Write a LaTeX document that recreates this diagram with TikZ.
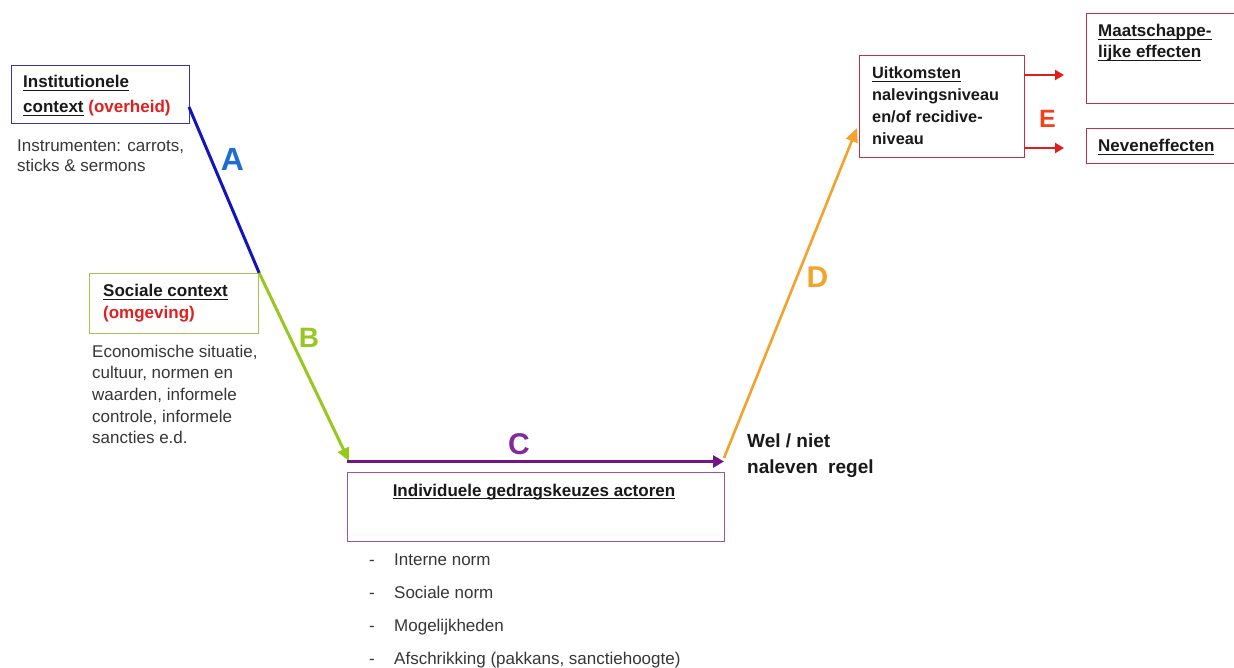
\documentclass[tikz,border=0pt]{standalone}
\usepackage{fontspec}
\setmainfont{Liberation Sans}
\usetikzlibrary{arrows.meta}
\newcommand\undl[1]{\setbox0\hbox{#1}\rlap{\rule[-3.2pt]{\wd0}{1.3pt}}\box0\relax}
\definecolor{navyb}{RGB}{55,55,150}
\definecolor{blueline}{RGB}{20,20,190}
\definecolor{blueA}{RGB}{30,110,210}
\definecolor{greenB}{RGB}{150,200,30}
\definecolor{greenbox}{RGB}{165,195,75}
\definecolor{purpleC}{RGB}{115,20,135}
\definecolor{purplelbl}{RGB}{130,40,160}
\definecolor{purplebox}{RGB}{160,80,175}
\definecolor{orangeD}{RGB}{243,162,44}
\definecolor{redarrow}{RGB}{225,30,30}
\definecolor{redE}{RGB}{242,64,26}
\definecolor{darkredbox}{RGB}{192,48,72}
\definecolor{redt}{RGB}{224,32,32}
\definecolor{bodygray}{RGB}{55,55,55}
\definecolor{headblack}{RGB}{25,25,25}
\begin{document}
\begin{tikzpicture}[x=1pt,y=-1pt]
\tikzset{
 lbl/.style={font=\fontsize{17}{20}\selectfont, inner sep=0, anchor=base west},
 hd/.style={lbl, font=\fontsize{17}{20}\selectfont\bfseries, text=headblack},
 hdsm/.style={lbl, font=\fontsize{16.3}{20}\selectfont\bfseries, text=headblack},
 body/.style={lbl, text=bodygray},
 big/.style={font=\fontsize{30}{30}\selectfont\bfseries, inner sep=0},
 box/.style={draw, line width=1.2pt, inner sep=0, anchor=north west, fill=white},
 conn/.style={line width=3pt},
}
\useasboundingbox (0,0) rectangle (1234,668);
\fill[white] (0,0) rectangle (1234,668);

% ---- Institutionele context
\node[box, draw=navyb, minimum width=178, minimum height=58] (inst) at (11,65) {};
\node[hd] (inst1) at (23,88) {\undl{Institutionele}};
\node[hd] (inst2) at (23,113) {\undl{context} \textcolor{redt}{(overheid)}};
\node[body] (instr1) at (17,152) {Instrumenten: carrots,};
\node[body] (instr2) at (17,172) {sticks \& sermons};

% ---- Sociale context
\node[box, draw=greenbox, minimum width=169, minimum height=60] (soc) at (89,273) {};
\node[hd] (soc1) at (103,297) {\undl{Sociale context}};
\node[hd, text=redt] (soc2) at (103,319) {(omgeving)};
\node[body] (ec1) at (92,357) {Economische situatie,};
\node[body] (ec2) at (92,378.5) {cultuur, normen en};
\node[body] (ec3) at (92,400) {waarden, informele};
\node[body] (ec4) at (92,422) {controle, informele};
\node[body] (ec5) at (92,443.5) {sancties e.d.};

% ---- Individuele gedragskeuzes
\node[box, draw=purplebox, minimum width=377, minimum height=69] (ind) at (347,472) {};
\node[hd, anchor=base] (ind1) at (534,496) {\undl{Individuele gedragskeuzes actoren}};
\node[body, anchor=base] (d1) at (372,565) {-};
\node[body] (l1) at (394,565) {Interne norm};
\node[body, anchor=base] (d2) at (372,598) {-};
\node[body] (l2) at (394,598) {Sociale norm};
\node[body, anchor=base] (d3) at (372,631) {-};
\node[body] (l3) at (394,631) {Mogelijkheden};
\node[body, anchor=base] (d4) at (372,664) {-};
\node[body] (l4) at (394,664) {Afschrikking (pakkans, sanctiehoogte)};

% ---- Wel / niet
\node[lbl, font=\fontsize{19}{22}\selectfont\bfseries, text=headblack] (wel1) at (747,447) {Wel / niet};
\node[lbl, font=\fontsize{19}{22}\selectfont\bfseries, text=headblack] (wel2) at (747,473) {naleven\hspace{5pt} regel};

% ---- Uitkomsten
\node[box, draw=darkredbox, minimum width=165, minimum height=102] (uit) at (859,55) {};
\node[hdsm] (u1) at (872,79) {\undl{Uitkomsten}};
\node[hdsm] (u2) at (872,101) {nalevingsniveau};
\node[hdsm] (u3) at (872,123) {en/of recidive-};
\node[hdsm] (u4) at (872,145) {niveau};

% ---- Maatschappelijke effecten
\node[box, draw=darkredbox, minimum width=152, minimum height=90] (maat) at (1086,13) {};
\node[hd] (m1) at (1098,37) {\undl{Maatschappe-}};
\node[hd] (m2) at (1098,58) {\undl{lijke effecten}};

% ---- Neveneffecten
\node[box, draw=darkredbox, minimum width=152, minimum height=35] (nev) at (1086,128) {};
\node[hd] (n1) at (1098,152) {\undl{Neveneffecten}};

% ---- connectors
\coordinate (pA) at (189,107);
\coordinate (cStart) at (347,461.5);
\coordinate (cEnd) at (724,461.5);
\coordinate (dStart) at (724,458);
\coordinate (dEnd) at (857,128);
\coordinate (bEnd) at (349,461);
\coordinate (r1s) at (1024,75);
\coordinate (r1e) at (1064,75);
\coordinate (r2s) at (1024,148);
\coordinate (r2e) at (1064,148);

\draw[conn, draw=blueline] (pA) -- (soc.north east);
\draw[conn, draw=greenB, -{Triangle[length=13pt,width=12pt]}] (soc.north east) -- (bEnd);
\draw[line width=3.5pt, draw=purpleC, -{Triangle[length=11pt,width=12pt]}] (cStart) -- (cEnd);
\draw[line width=2.6pt, draw=orangeD, -{Triangle[length=14pt,width=12pt]}] (dStart) -- (dEnd);
\draw[line width=2pt, draw=redarrow, -{Triangle[length=9pt,width=10pt]}] (r1s) -- (r1e);
\draw[line width=2pt, draw=redarrow, -{Triangle[length=9pt,width=10pt]}] (r2s) -- (r2e);

% ---- letters
\node[big, text=blueA, font=\fontsize{32}{32}\selectfont\bfseries] (LA) at (232.5,159) {A};
\node[big, text=greenB, font=\fontsize{28}{28}\selectfont\bfseries] (LB) at (309,338) {B};
\node[big, text=purplelbl] (LC) at (519,444) {C};
\node[big, text=orangeD] (LD) at (817.5,277.5) {D};
\node[big, text=redE, font=\fontsize{25}{25}\selectfont\bfseries] (LE) at (1047.5,118.5) {E};
\end{tikzpicture}
\end{document}
